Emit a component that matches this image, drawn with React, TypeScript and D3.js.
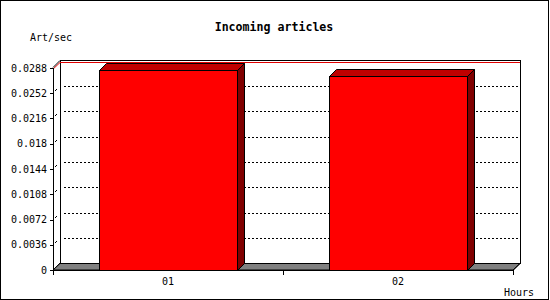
import React from "react";
import * as d3 from "d3";

const categories = ["01", "02"];
const values = [0.02852, 0.02766];
const yTicks = [0, 0.0036, 0.0072, 0.0108, 0.0144, 0.018, 0.0216, 0.0252, 0.0288];
const yMax = 0.0288;
const maxLine = 0.0287;
const title = "Incoming articles";
const yTitle = "Art/sec";
const xTitle = "Hours";

const W = 550;
const H = 300;
const left = 53;
const right = 513;
const bottom = 270;
const top = 68;
const dx = 7;
const dy = 7;
const mono = "'DejaVu Sans Mono', monospace";

export default function App() {
  const y = d3.scaleLinear().domain([0, yMax]).range([bottom, top]);
  const x = d3
    .scaleBand<string>()
    .domain(categories)
    .range([left, right])
    .paddingInner(0.4)
    .paddingOuter(0.2);
  const step = x.step();
  const bw = x.bandwidth();
  const backTop = y(yMax) - dy - 1;
  const pts = (a: [number, number][]) => a.map((p) => p.join(",")).join(" ");
  const bounds = [left, ...categories.map((c, i) => left + step * (i + 1))];

  return (
    <svg
      width={W}
      height={H}
      style={{ position: "fixed", left: 0, top: 0, background: "#fff" }}
    >
      <rect x={0.5} y={0.5} width={548} height={299} fill="#fff" stroke="#000" />
      {/* floor */}
      <polygon
        points={pts([
          [left, bottom],
          [left + dx, bottom - dy],
          [right + dx, bottom - dy],
          [right, bottom],
        ])}
        fill="#808080"
        stroke="#000"
        strokeWidth={1}
      />
      {/* back wall */}
      <rect
        x={left + dx + 0.5}
        y={backTop + 0.5}
        width={right - left}
        height={bottom - dy - backTop}
        fill="#fff"
        stroke="#000"
      />
      {/* floor again over wall bottom */}
      <polygon
        points={pts([
          [left, bottom],
          [left + dx, bottom - dy + 0.5],
          [right + dx, bottom - dy + 0.5],
          [right, bottom],
        ])}
        fill="#808080"
        stroke="#000"
        strokeWidth={1}
      />
      {/* gridlines */}
      {yTicks
        .filter((t) => t > 0 && t < yMax)
        .map((t, i) => (
          <g key={"g" + i}>
            <line
              x1={left + dx + 4}
              x2={right + dx}
              y1={Math.round(y(t) - dy) + 0.5}
              y2={Math.round(y(t) - dy) + 0.5}
              stroke="#000"
              strokeDasharray="2,2"
            />
            <line
              x1={left + 2}
              y1={Math.round(y(t)) - 2}
              x2={left + 4}
              y2={Math.round(y(t)) - 4}
              stroke="#000"
            />
          </g>
        ))}
      {/* top outline diagonal */}
      <line x1={left} y1={y(yMax) - 0.5} x2={left + dx} y2={backTop + 0.5} stroke="#000" />
      {/* max line */}
      <line
        x1={left + dx}
        x2={right + dx}
        y1={Math.round(y(maxLine) - dy) + 0.5}
        y2={Math.round(y(maxLine) - dy) + 0.5}
        stroke="#e00000"
      />
      <line
        x1={left + 1}
        y1={y(maxLine) - 0.5}
        x2={left + dx}
        y2={Math.round(y(maxLine) - dy) + 0.5}
        stroke="#e00000"
      />
      {/* bars */}
      {categories.map((c, i) => {
        const x0 = Math.round(x(c)!) + 0.5;
        const x1 = x0 + bw;
        const yv = Math.round(y(values[i])) + 0.5;
        const yb = bottom + 0.5;
        return (
          <g key={c} stroke="#000" strokeWidth={1} strokeLinejoin="miter">
            <polygon
              points={pts([
                [x0, yv],
                [x0 + dx, yv - dy],
                [x1 + dx, yv - dy],
                [x1, yv],
              ])}
              fill="#c00000"
            />
            <polygon
              points={pts([
                [x1, yv],
                [x1 + dx, yv - dy],
                [x1 + dx, yb - dy],
                [x1, yb],
              ])}
              fill="#800000"
            />
            <rect x={x0} y={yv} width={bw} height={yb - yv} fill="#ff0000" />
          </g>
        );
      })}
      {/* y axis */}
      <line x1={left + 0.5} x2={left + 0.5} y1={y(yMax)} y2={bottom + 5} stroke="#000" />
      {yTicks.map((t, i) => (
        <g key={"t" + i}>
          <line
            x1={left - 3}
            x2={left}
            y1={Math.round(y(t)) + 0.5}
            y2={Math.round(y(t)) + 0.5}
            stroke="#000"
          />
          <text
            x={47}
            y={y(t) + 3.6}
            textAnchor="end"
            fontFamily={mono}
            fontSize={10}
            fill="#000"
          >
            {String(t)}
          </text>
        </g>
      ))}
      {/* x axis */}
      <line x1={left - 3} x2={right} y1={bottom + 0.5} y2={bottom + 0.5} stroke="#000" />
      <line
        x1={right}
        y1={bottom + 0.5}
        x2={right + dx}
        y2={bottom - dy + 0.5}
        stroke="#000"
      />
      {bounds.map((b, i) => (
        <line
          key={"b" + i}
          x1={Math.round(b) + 0.5}
          x2={Math.round(b) + 0.5}
          y1={bottom}
          y2={bottom + 5}
          stroke="#000"
        />
      ))}
      {categories.map((c) => (
        <text
          key={"l" + c}
          x={x(c)! + bw / 2}
          y={284.5}
          textAnchor="middle"
          fontFamily={mono}
          fontSize={10}
          fill="#000"
        >
          {c}
        </text>
      ))}
      <text
        x={274}
        y={30.8}
        textAnchor="middle"
        fontFamily={mono}
        fontWeight="bold"
        fontSize={11.6}
        fill="#000"
      >
        {title}
      </text>
      <text x={30} y={40.6} fontFamily={mono} fontSize={10} fill="#000">
        {yTitle}
      </text>
      <text x={504} y={296.3} fontFamily={mono} fontSize={10} fill="#000">
        {xTitle}
      </text>
    </svg>
  );
}
